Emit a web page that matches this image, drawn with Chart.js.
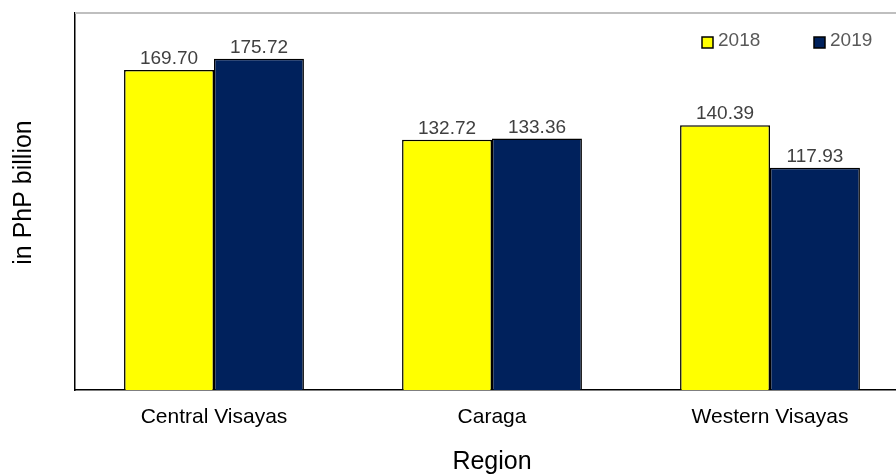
<!DOCTYPE html>
<html><head><meta charset="utf-8">
<script src="https://cdn.jsdelivr.net/npm/chart.js@4/dist/chart.umd.min.js"></script>
<style>html,body{margin:0;padding:0;overflow:hidden;background:#fff}#wrap{width:910px;height:475px;position:relative}</style>
</head><body><div id="wrap"><canvas id="c"></canvas></div>
<script>
const categories = ["Central Visayas", "Caraga", "Western Visayas"];
const values2018 = [169.70, 132.72, 140.39];
const values2019 = [175.72, 133.36, 117.93];
const seriesLabels = ["2018", "2019"];
const yTitle = "in PhP billion";
const xTitle = "Region";

const FONT = "'Liberation Sans', Arial, sans-serif";

const decor = {
  id: 'decor',
  afterDatasetsDraw(chart) {
    const ctx = chart.ctx, a = chart.chartArea;
    ctx.save();
    // top gray border
    ctx.strokeStyle = '#bfbfbf'; ctx.lineWidth = 2;
    ctx.beginPath(); ctx.moveTo(a.left, a.top); ctx.lineTo(a.right, a.top); ctx.stroke();
    // y title
    ctx.save();
    ctx.translate(24, (a.top + a.bottom) / 2 - 9);
    ctx.rotate(-Math.PI / 2);
    ctx.fillStyle = '#000'; ctx.font = "25px " + FONT;
    ctx.textAlign = 'center'; ctx.textBaseline = 'middle';
    ctx.fillText(yTitle, 0, 0);
    ctx.restore();
    // data labels
    ctx.fillStyle = '#404040'; ctx.font = "19px " + FONT;
    ctx.textAlign = 'center'; ctx.textBaseline = 'alphabetic';
    chart.data.datasets.forEach((ds, i) => {
      chart.getDatasetMeta(i).data.forEach((bar, j) => {
        ctx.fillText(ds.data[j].toFixed(2), bar.x, bar.y - 6);
      });
    });
    // legend
    const pos = [702, 814];
    chart.data.datasets.forEach((ds, i) => {
      const x = pos[i], y = 37;
      ctx.fillStyle = ds.backgroundColor; ctx.fillRect(x, y, 11, 11);
      ctx.strokeStyle = '#000'; ctx.lineWidth = 1.5; ctx.strokeRect(x, y, 11, 11);
      ctx.fillStyle = '#595959'; ctx.textAlign = 'left'; ctx.textBaseline = 'alphabetic';
      ctx.fillText(ds.label, x + 16, y + 9);
    });
    ctx.restore();
  }
};

new Chart(document.getElementById('c'), {
  type: 'bar',
  data: {
    labels: categories,
    datasets: [
      { label: seriesLabels[0], data: values2018, backgroundColor: '#ffff00', borderColor: '#000', borderWidth: 1.5 },
      { label: seriesLabels[1], data: values2019, backgroundColor: '#00215c', borderColor: '#000', borderWidth: 1.5 }
    ]
  },
  options: {
    responsive: true, maintainAspectRatio: false, animation: false,
    layout: { padding: { top: 13, right: 1, left: 0, bottom: 0 } },
    plugins: { legend: { display: false }, tooltip: { enabled: false } },
    datasets: { bar: { barPercentage: 1, categoryPercentage: 0.647 } },
    scales: {
      x: {
        grid: { display: false, drawTicks: false },
        border: { display: true, color: '#000', width: 1.5 },
        ticks: { color: '#000', font: { family: FONT, size: 21 }, padding: 15 },
        title: { display: true, text: xTitle, color: '#000', font: { family: FONT, size: 25, lineHeight: 1 }, padding: 0 },
        afterFit(s) { s.height = 85; }
      },
      y: {
        min: 0, max: 200,
        grid: { display: false, drawTicks: false },
        border: { display: true, color: '#000', width: 1.5 },
        ticks: { display: false },
        title: { display: false },
        afterFit(s) { s.width = 75; }
      }
    }
  },
  plugins: [decor]
});
</script></body></html>
